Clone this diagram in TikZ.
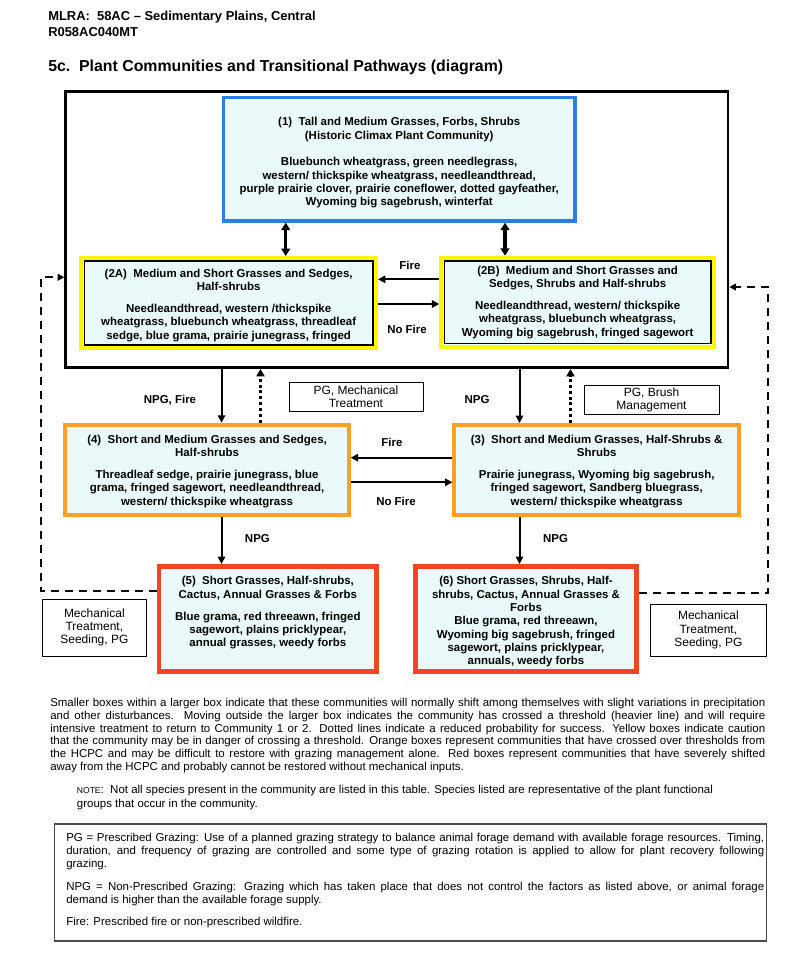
\documentclass[tikz,border=0pt]{standalone}
\usepackage{fontspec}
\setmainfont{Liberation Sans}
\usetikzlibrary{arrows.meta}
\definecolor{commfill}{RGB}{234,250,250}
\definecolor{hcpcblue}{RGB}{45,125,230}
\definecolor{cautionyellow}{RGB}{255,246,0}
\definecolor{crossedorange}{RGB}{250,160,40}
\definecolor{severered}{RGB}{240,70,35}
\begin{document}
\begin{tikzpicture}[x=0.75pt,y=-0.75pt,
	boxsize/.style 2 args={minimum width=#1*0.75pt, minimum height=#2*0.75pt},
	commbox/.style={rectangle, fill=commfill, inner sep=0pt},
	threshold/.style={draw, line width=2pt, inner sep=0pt},
	hcpc/.style={commbox, draw=hcpcblue, line width=2.6pt},
	caution/.style={commbox, draw=cautionyellow, line width=3pt},
	crossed/.style={commbox, draw=crossedorange, line width=3pt},
	severe/.style={commbox, draw=severered, line width=3.4pt},
	commtext/.style={anchor=north, align=center, inner sep=0pt, font=\bfseries\fontsize{8.6}{10}\selectfont},
	pathlabel/.style={inner sep=0pt, font=\bfseries\fontsize{8.6}{10}\selectfont},
	treatment/.style={draw, line width=0.6pt, align=center, inner sep=0pt, font=\fontsize{9}{10}\selectfont},
	prose/.style={anchor=north west, inner sep=0pt, font=\fontsize{8.6}{9.6}\selectfont},
	pathway/.style={-{Triangle[length=5.5pt,width=5.5pt]}, line width=1.5pt},
	twoway/.style={{Triangle[length=5.5pt,width=6.5pt]}-{Triangle[length=5.5pt,width=6.5pt]}, line width=2.4pt},
	recovery/.style={-{Triangle[length=5.5pt,width=6pt]}, line width=1.8pt, dash pattern=on 2.2pt off 2.2pt},
	reclaim/.style={-{Triangle[length=5pt,width=5pt]}, line width=1.3pt, dash pattern=on 6pt off 4.5pt}]
	\useasboundingbox (0,0) rectangle (800,964);

	% heading
	\node[anchor=base west, inner sep=0pt, font=\bfseries\fontsize{9.7}{11}\selectfont] (mlra) at (48,20) {MLRA:\ \ 58AC -- Sedimentary Plains, Central};
	\node[anchor=base west, inner sep=0pt, font=\bfseries\fontsize{9.7}{11}\selectfont] (siteid) at (48,36) {R058AC040MT};
	\node[anchor=base west, inner sep=0pt, font=\bfseries\fontsize{11.9}{14}\selectfont] (title) at (48,71) {5c.\ \ Plant Communities and Transitional Pathways (diagram)};

	% plant communities
	\node[threshold, boxsize={662.3}{276.3}] (state) at (396.8,229.5) {};
	\node[hcpc, boxsize={351.5}{123.2}] (c1) at (399.2,159.35) {};
	\node[caution, boxsize={294.7}{90}] (c2A) at (228.65,303) {};
	\node[caution, boxsize={272.7}{89}] (c2B) at (577.65,302.2) {};
	\node[crossed, boxsize={283.3}{90}] (c4) at (207.05,469.7) {};
	\node[crossed, boxsize={284.6}{89.7}] (c3) at (596.7,469.85) {};
	\node[severe, boxsize={217.8}{105.5}] (c5) at (267.85,619) {};
	\node[severe, boxsize={221.5}{105.5}] (c6) at (526,619) {};

	\node[commtext] (c1text) at (399.2,117.3) {(1)\ \ Tall and Medium Grasses, Forbs, Shrubs\\(Historic Climax Plant Community)\\[10pt]Bluebunch wheatgrass, green needlegrass,\\western/ thickspike wheatgrass, needleandthread,\\purple prairie clover, prairie coneflower, dotted gayfeather,\\Wyoming big sagebrush, winterfat};
	\begin{scope}
		\clip ([xshift=3.8pt,yshift=-3.8pt]c2A.north west) rectangle ([xshift=-3.8pt,yshift=3.3pt]c2A.south east);
		\node[commtext] (c2Atext) at (228.65,268.6) {(2A)\ \ Medium and Short Grasses and Sedges,\\Half-shrubs\\[6.5pt]Needleandthread, western /thickspike\\wheatgrass, bluebunch wheatgrass, threadleaf\\sedge, blue grama, prairie junegrass, fringed\\sagewort};
	\end{scope}
	\node[commtext] (c2Btext) at (577.65,265.7) {(2B)\ \ Medium and Short Grasses and\\Sedges, Shrubs and Half-shrubs\\[6.5pt]Needleandthread, western/ thickspike\\wheatgrass, bluebunch wheatgrass,\\Wyoming big sagebrush, fringed sagewort};
	\node[commtext] (c4text) at (207.05,434.7) {(4)\ \ Short and Medium Grasses and Sedges,\\Half-shrubs\\[6.5pt]Threadleaf sedge, prairie junegrass, blue\\grama, fringed sagewort, needleandthread,\\western/ thickspike wheatgrass};
	\node[commtext] (c3text) at (596.7,434.7) {(3)\ \ Short and Medium Grasses, Half-Shrubs \&\\Shrubs\\[6.5pt]Prairie junegrass, Wyoming big sagebrush,\\fringed sagewort, Sandberg bluegrass,\\western/ thickspike wheatgrass};
	\node[commtext] (c5text) at (267.85,576.4) {(5)\ \ Short Grasses, Half-shrubs,\\Cactus, Annual Grasses \& Forbs\\[6.5pt]Blue grama, red threeawn, fringed\\sagewort, plains pricklypear,\\annual grasses, weedy forbs};
	\node[commtext] (c6text) at (526,576.4) {(6) Short Grasses, Shrubs, Half-\\shrubs, Cactus, Annual Grasses \&\\Forbs\\Blue grama, red threeawn,\\Wyoming big sagebrush, fringed\\sagewort, plains pricklypear,\\annuals, weedy forbs};

	% black frame inside the yellow boxes
	\draw[line width=1.1pt] ([xshift=3.8pt,yshift=-3.8pt]c2A.north west) rectangle ([xshift=-3.8pt,yshift=3.8pt]c2A.south east);
	\draw[line width=1.1pt] ([xshift=3.8pt,yshift=-3.8pt]c2B.north west) rectangle ([xshift=-3.8pt,yshift=3.8pt]c2B.south east);

	% treatments
	\node[treatment, boxsize={134}{28.7}] (pgmech) at (355.9,396.65) {PG, Mechanical\\Treatment};
	\node[treatment, boxsize={135}{28.3}] (pgbrush) at (651.5,399.85) {PG, Brush\\Management};
	\node[treatment, boxsize={104}{57}] (mechL) at (94.35,627.5) {Mechanical\\Treatment,\\Seeding, PG};
	\node[treatment, boxsize={116.7}{51.7}] (mechR) at (708.35,630.15) {Mechanical\\Treatment,\\Seeding, PG};

	% columns and rows of the pathways
	\coordinate (colA) at (285.7,0);
	\coordinate (colB) at (505,0);
	\coordinate (colC) at (221.5,0);
	\coordinate (colD) at (260.5,0);
	\coordinate (colE) at (519.5,0);
	\coordinate (colF) at (570.5,0);
	\coordinate (colL) at (40.8,0);
	\coordinate (colR) at (768,0);
	\coordinate (rowA) at (0,279.3);
	\coordinate (rowB) at (0,304);
	\coordinate (rowC) at (0,457.7);
	\coordinate (rowD) at (0,482.3);
	\coordinate (rowL) at (0,277.3);
	\coordinate (rowR) at (0,287);
	\coordinate (rowLB) at (0,591);
	\coordinate (rowRB) at (0,593.3);

	\draw[twoway] (c1.south -| colA) -- (c2A.north -| colA);
	\draw[twoway] (c1.south -| colB) -- (c2B.north -| colB);
	\draw[pathway] (c2B.west |- rowA) -- (c2A.east |- rowA);
	\draw[pathway] (c2A.east |- rowB) -- (c2B.west |- rowB);
	\draw[pathway] (state.south -| colC) -- (c4.north -| colC);
	\draw[recovery] (c4.north -| colD) -- (state.south -| colD);
	\draw[pathway] (state.south -| colE) -- (c3.north -| colE);
	\draw[recovery] (c3.north -| colF) -- (state.south -| colF);
	\draw[pathway] (c3.west |- rowC) -- (c4.east |- rowC);
	\draw[pathway] (c4.east |- rowD) -- (c3.west |- rowD);
	\draw[pathway] (c4.south -| colC) -- (c5.north -| colC);
	\draw[pathway] (c3.south -| colE) -- (c6.north -| colE);
	\draw[reclaim] (c5.west |- rowLB) -- (colL |- rowLB) -- (colL |- rowL) -- (state.west |- rowL);
	\draw[reclaim] (c6.east |- rowRB) -- (colR |- rowRB) -- (colR |- rowR) -- (state.east |- rowR);

	\node[pathlabel] (fireA) at (410,265) {Fire};
	\node[pathlabel] (nofireA) at (407,329) {No Fire};
	\node[pathlabel] (fireB) at (392,442) {Fire};
	\node[pathlabel] (nofireB) at (396,501.7) {No Fire};
	\node[pathlabel] (npgfire) at (170,400) {NPG, Fire};
	\node[pathlabel] (npgA) at (477,400) {NPG};
	\node[pathlabel] (npgB) at (257.4,539) {NPG};
	\node[pathlabel] (npgC) at (555.5,539) {NPG};

	% remarks
	\node[prose, text width=715*0.75pt, align=justify] (remarks) at (50,698) {Smaller boxes within a larger box indicate that these communities will normally shift among themselves with slight variations in precipitation\linebreak and other disturbances.  Moving outside the larger box indicates the community has crossed a threshold (heavier line) and will require\linebreak intensive treatment to return to Community 1 or 2.  Dotted lines indicate a reduced probability for success.  Yellow boxes indicate caution\linebreak that the community may be in danger of crossing a threshold.  Orange boxes represent communities that have crossed over thresholds from\linebreak the HCPC and may be difficult to restore with grazing management alone.  Red boxes represent communities that have severely shifted\linebreak away from the HCPC and probably cannot be restored without mechanical inputs.};
	\node[prose, align=left, font=\fontsize{8.6}{10}\selectfont] (note) at (76.7,785.2) {{\fontsize{6.4}{10}\selectfont NOTE}:\ \ Not all species present in the community are listed in this table.  Species listed are representative of the plant functional\\groups that occur in the community.};

	% abbreviations
	\node[draw=black!70, line width=0.9pt, inner sep=0pt, boxsize={712}{117}] (legend) at (410.4,882.5) {};
	\node[prose, text width=698*0.75pt, align=justify, font=\fontsize{8.6}{9.75}\selectfont] (legendtext) at (66,832.6) {PG = Prescribed Grazing:  Use of a planned grazing strategy to balance animal forage demand with available forage resources.  Timing,\linebreak duration, and frequency of grazing are controlled and some type of grazing rotation is applied to allow for plant recovery following\linebreak grazing.\par\vspace{7.5pt}
	NPG = Non-Prescribed Grazing:  Grazing which has taken place that does not control the factors as listed above, or animal forage\linebreak demand is higher than the available forage supply.\par\vspace{7.3pt}
	Fire:  Prescribed fire or non-prescribed wildfire.};
\end{tikzpicture}
\end{document}
